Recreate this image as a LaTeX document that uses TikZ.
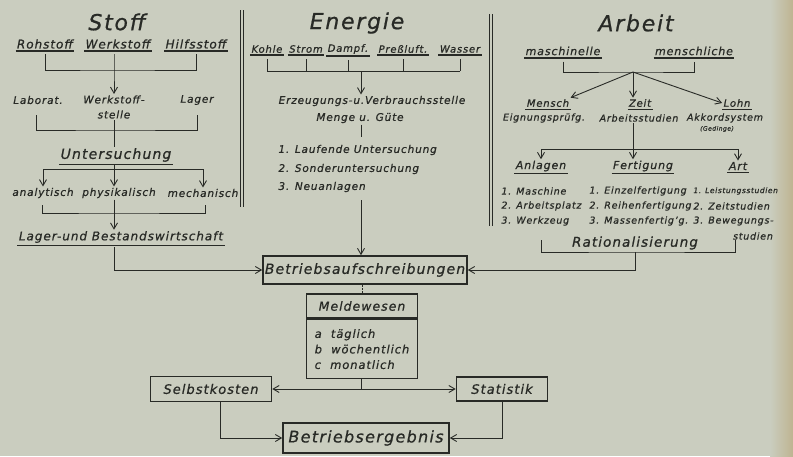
\documentclass[tikz,border=0pt]{standalone}
\usepackage{fontspec}
\setmainfont[LetterSpace=8,FakeBold=0.7]{DejaVu Sans}
\usetikzlibrary{arrows.meta}
\definecolor{paper}{RGB}{202,205,191}
\definecolor{paperdark}{RGB}{190,180,145}
\definecolor{ink}{RGB}{40,42,38}
\newcommand{\fs}[1]{\fontsize{#1}{#1}\selectfont\itshape}
\newcommand{\ulnode}[5]{
\node[txt,font=\fs{#4}] (#1) at (#2,#3) {#5};
\draw[line width=1.8pt] ([yshift=-1pt]#1.south west)--([yshift=-1pt]#1.south east);
}
\newcommand{\ulthin}[5]{
\node[txt,font=\fs{#4}] (#1) at (#2,#3) {#5};
\draw[line width=0.8pt] ([yshift=-1pt]#1.south west)--([yshift=-1pt]#1.south east);
}
\newcommand{\drawthick}{\draw[line width=1.2pt]}
\tikzset{
  txt/.style={inner sep=1pt, text=ink},
  title/.style={txt, font=\fs{22}},
  item/.style={txt, font=\fs{10}, anchor=west},
  fbox/.style={draw=ink, line width=1.6pt, inner sep=0pt, text=ink},
  arr/.style={-{Straight Barb[length=6pt,width=7pt]}},
}
\begin{document}
\begin{tikzpicture}[x=1pt,y=-1pt,line width=0.9pt,draw=ink,color=ink]
\fill[paper] (0,0) rectangle (793,456);
\shade[left color=paper,right color=paperdark] (770,0) rectangle (793,456);
\useasboundingbox (0,0) rectangle (793,456);
\draw (240,10)--(240,207);\draw (243,10)--(243,207);
\draw (489,14)--(489,226);\draw (492,14)--(492,226);
\node[title] (stoff) at (117,22) {Stoff};
\ulnode{roh}{45}{44}{12}{Rohstoff}
\ulnode{werk}{118}{44}{12}{Werkstoff}
\ulnode{hilfs}{196}{44}{12}{Hilfsstoff}
\coordinate (sj1) at (114,70);
\draw ([yshift=-4pt]roh.south) |- (sj1) -| ([yshift=-4pt]hilfs.south);
\node[txt,font=\fs{10.5}] (labor) at (38,100) {Laborat.};
\node[txt,font=\fontsize{10.5}{15}\selectfont\itshape,align=center] (wst) at (114,107) {Werkstoff-\\stelle};
\node[txt,font=\fs{10.5}] (lager) at (197,100) {Lager};
\draw[arr] ([yshift=-4pt]werk.south -| sj1) -- (sj1) -- (wst.north -| sj1);
\coordinate (sj2) at (114,130);
\coordinate (sl) at (36,115);
\coordinate (sr) at (197,115);
\draw (sl) |- (sj2) -| (sr);
\ulthin{unt}{116}{155}{14}{Untersuchung}
\draw (wst.south -| sj2) -- (unt.north -| sj2);
\node[txt,font=\fs{10.5}] (ana) at (43,193) {analytisch};
\node[txt,font=\fs{10.5}] (phys) at (119,193) {physikalisch};
\node[txt,font=\fs{10.5}] (mech) at (203,193) {mechanisch};
\coordinate (sj3) at (114,169);
\draw (sj3 -| ana) -- (sj3 -| mech);
\draw[arr] ([yshift=-2pt]unt.south -| sj3) -- (phys.north -| sj3);
\draw[arr] (sj3 -| ana) -- (ana.north);
\draw[arr] (sj3 -| mech) -- (mech.north);
\coordinate (sj4) at (114,213);
\coordinate (bl) at (42,205);
\coordinate (br) at (205,205);
\draw (bl) |- (sj4) -| (br);
\ulthin{lb}{121}{237}{12}{Lager-und Bestandswirtschaft}
\draw[arr] (phys.south -| sj4) -- (lb.north -| sj4);
\node[title] (energie) at (357,23) {Energie};
\ulnode{kohle}{267}{49}{10}{Kohle}
\ulnode{strom}{306}{49}{10}{Strom}
\ulnode{dampf}{348}{49}{10}{Dampf.}
\ulnode{press}{403}{49}{10}{Preßluft.}
\ulnode{wasser}{460}{49}{10}{Wasser}
\coordinate (ej1) at (361,71);
\foreach \n in {kohle,strom,dampf,press,wasser}
  \draw ([yshift=-5pt]\n.south) -- (\n.south |- ej1);
\draw (kohle.south |- ej1) -- (wasser.south |- ej1);
\node[txt,font=\fs{10.5}] (erz) at (372,101) {Erzeugungs-u.Verbrauchsstelle};
\node[txt,font=\fs{10.5}] (menge) at (360,118) {Menge u. Güte};
\draw[arr] (ej1) -- (erz.north -| ej1);
\coordinate (ej2) at (361,137);
\draw (menge.south -| ej2) -- (ej2);
\node[item,font=\fs{10.5}] (l1) at (277,150) {1. Laufende Untersuchung};
\node[item,font=\fs{10.5}] (l2) at (277,169) {2. Sonderuntersuchung};
\node[item,font=\fs{10.5}] (l3) at (277,187) {3. Neuanlagen};
\coordinate (ej3) at (361,200);
\node[title] (arbeit) at (636,23) {Arbeit};
\ulnode{masch}{563}{51}{11}{maschinelle}
\ulnode{mensl}{694}{51}{11}{menschliche}
\coordinate (aj1) at (633,72);
\draw ([yshift=-5pt]masch.south) |- (aj1) -| ([yshift=-5pt]mensl.south);
\ulthin{mensch}{548}{103}{10}{Mensch}
\ulthin{zeit}{640}{103}{10}{Zeit}
\ulthin{lohn}{737}{103}{10}{Lohn}
\draw[arr] (aj1) -- (mensch.north east);
\draw[arr] (aj1) -- (zeit.north -| aj1);
\draw[arr] (aj1) -- (lohn.west);
\node[txt,font=\fs{9.5}] (eign) at (544,118) {Eignungsprüfg.};
\node[txt,font=\fs{9.5}] (arbst) at (639,118) {Arbeitsstudien};
\node[txt,font=\fs{9.5}] (akk) at (725,118) {Akkordsystem};
\node[txt,font=\fs{6}] (ged) at (717,129) {(Gedinge)};
\coordinate (aj2) at (633,149);
\ulthin{anl}{541}{166}{11}{Anlagen}
\ulthin{fert}{643}{166}{11}{Fertigung}
\ulthin{art}{738}{166}{11}{Art}
\draw (arbst.south -| aj2) -- (aj2);
\draw (aj2 -| anl) -- (aj2 -| art);
\draw[arr] (aj2 -| anl) -- (anl.north);
\draw[arr] (aj2) -- (fert.north -| aj2);
\draw[arr] (aj2 -| art) -- (art.north);
\node[item,font=\fs{9.5}] (a1) at (500,191) {1. Maschine};
\node[item,font=\fs{9.5}] (a2) at (500,206) {2. Arbeitsplatz};
\node[item,font=\fs{9.5}] (a3) at (500,221) {3. Werkzeug};
\node[item,font=\fs{9.5}] (f1) at (588,191) {1. Einzelfertigung};
\node[item,font=\fs{9.5}] (f2) at (588,206) {2. Reihenfertigung};
\node[item,font=\fs{9.5}] (f3) at (588,221) {3. Massenfertig'g.};
\node[item,font=\fs{7.5}] (r1) at (692,191) {1. Leistungsstudien};
\node[item,font=\fs{9.5}] (r2) at (692,206) {2. Zeitstudien};
\node[item,font=\fs{9.5}] (r3) at (692,221) {3. Bewegungs-};
\node[txt,font=\fs{9.5}] (r4) at (753,236) {studien};
\node[txt,font=\fs{13.5}] (rat) at (635,243) {Rationalisierung};
\coordinate (aj3) at (635,252);
\coordinate (rl) at (541,240);
\coordinate (rr) at (735,240);
\draw (rl) |- (aj3) -| (rr);
\node[fbox,font=\fs{14},minimum width=204,minimum height=28] (ba) at (365,270) {Betriebsaufschreibungen};
\draw[arr] ([yshift=-3pt]lb.south -| sj4) |- (ba.west);
\draw[arr] (aj3) |- (ba.east);
\draw[arr] (ej3) -- (ba.north -| ej3);
\node[fbox,font=\fs{12.5},minimum width=111,minimum height=24] (mwh) at (362,306) {Meldewesen};
\node[fbox,font=\fontsize{11.5}{15.5}\selectfont\itshape,minimum width=111,minimum height=59,anchor=north,align=left] (mwb) at (mwh.south) {a\ \ täglich\\b\ \ wöchentlich\\c\ \ monatlich};
\draw[densely dotted,line width=0.5pt] (ba.south -| mwh) -- (mwh.north);
\node[fbox,font=\fs{13},minimum width=121,minimum height=25] (sk) at (211,389) {Selbstkosten};
\node[fbox,font=\fs{13},minimum width=91,minimum height=24] (st) at (502,389) {Statistik};
\node[fbox,font=\fs{16},minimum width=166,minimum height=30] (be) at (366,438) {Betriebsergebnis};
\coordinate (mj) at (361,389);
\draw (mwb.south -| mj) -- (mj);
\draw[arr] (mj) -- (sk.east);
\draw[arr] (mj) -- (st.west);
\draw[arr] ([xshift=9pt]sk.south) |- (be.west);
\draw[arr] (st.south) |- (be.east);
\end{tikzpicture}
\end{document}
